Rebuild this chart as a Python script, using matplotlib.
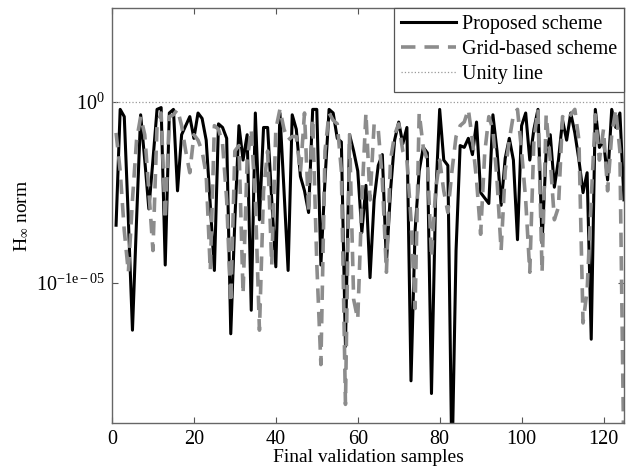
import numpy as np
import matplotlib
matplotlib.use('Agg')
import matplotlib.pyplot as plt
from matplotlib.ticker import FixedLocator, NullLocator

plt.rcParams['font.family'] = ['Liberation Serif', 'DejaVu Serif']
plt.rcParams['mathtext.fontset'] = 'custom'
plt.rcParams['mathtext.rm'] = 'Liberation Serif'
plt.rcParams['mathtext.it'] = 'Liberation Serif:italic'

# log10 of the H-infinity norm, in units of 1e-5, samples 1..125
proposed_exp = [
    -0.68, -0.04, -0.08, -0.65, -1.26, -0.65, -0.07, -0.32, -0.59, -0.32,
    -0.04, -0.03, -0.90, -0.06, -0.04, -0.49, -0.18, -0.13, -0.08, -0.20,
    -0.06, -0.09, -0.21, -0.57, -0.93, -0.12, -0.14, -0.20, -1.28, -0.65,
    -0.13, -0.32, -0.18, -1.15, -0.06, -0.65, -0.14, -0.14, -0.54, -0.91,
    -0.06, -0.49, -0.93, -0.07, -0.15, -0.41, -0.49, -0.61, -0.04, -0.04,
    -0.90, -0.43, -0.04, -0.06, -0.20, -0.22, -1.35, -0.18, -0.27, -0.38,
    -0.72, -0.46, -0.97, -0.54, -0.35, -0.29, -0.89, -0.49, -0.21, -0.11,
    -0.23, -0.14, -1.54, -0.71, -0.38, -0.25, -0.28, -1.61, -0.54, -0.04,
    -0.32, -0.35, -2.03, -0.82, -0.24, -0.25, -0.20, -0.29, -0.11, -0.50,
    -0.53, -0.56, -0.07, -0.27, -0.57, -0.31, -0.20, -0.32, -0.76, -0.13,
    -0.06, -0.32, -0.15, -0.04, -0.78, -0.27, -0.18, -0.47, -0.32, -0.10,
    -0.21, -0.06, -0.17, -0.32, -0.50, -0.39, -1.31, -0.04, -0.25, -0.21,
    -0.43, -0.04, -0.14, -0.06, -0.54,
]
grid_exp = [
    -0.17, -0.38, -0.71, -0.94, -0.54, -0.21, -0.08, -0.18, -0.49, -0.82,
    -0.13, -0.06, -0.65, -0.08, -0.07, -0.04, -0.13, -0.27, -0.39, -0.18,
    -0.21, -0.27, -0.40, -0.93, -0.13, -0.15, -0.23, -0.54, -1.11, -0.27,
    -0.24, -1.06, -0.32, -0.15, -0.54, -1.26, -0.49, -0.27, -0.90, -0.15,
    -0.04, -0.15, -0.21, -0.19, -0.19, -0.39, -0.06, -0.61, -0.09, -0.89,
    -1.45, -0.27, -0.06, -0.10, -0.12, -0.38, -1.67, -0.18, -1.09, -1.20,
    -0.54, -0.06, -0.54, -0.12, -0.15, -0.43, -0.94, -0.32, -0.18, -0.12,
    -0.27, -0.32, -0.65, -1.14, -0.06, -0.25, -0.32, -0.86, -0.49, -0.32,
    -0.49, -0.61, -0.38, -0.19, -0.13, -0.11, -0.04, -0.21, -0.43, -0.73,
    -0.28, -0.08, -0.15, -0.43, -0.82, -0.38, -0.21, -0.07, -0.04, -0.27,
    -0.54, -0.94, -0.21, -0.04, -0.94, -0.07, -0.32, -0.65, -0.58, -0.08,
    -0.10, -0.07, -0.04, -0.21, -1.22, -1.04, -0.54, -0.07, -0.32, -0.15,
    -0.49, -0.18, -0.04, -0.27, -2.03,
]

samples = np.arange(1, len(proposed_exp) + 1)
proposed = 10 ** (np.array(proposed_exp) * 1e-5)
grid = 10 ** (np.array(grid_exp) * 1e-5)

fig = plt.figure(figsize=(6.27, 4.73), dpi=100)
ax = fig.add_axes([0.1786, 0.1057, 0.8166, 0.8773])

ax.plot(samples, proposed, '-', color='black', lw=2.2, label='Proposed scheme')
ax.plot(samples, grid, '--', color='#8c8c8c', lw=2.6, dashes=(4, 2.5),
        label='Grid-based scheme')
ax.plot([0, 125], [1, 1], ':', color='#999999', lw=0.9, label='Unity line')

ax.set_yscale('log')
ax.set_xlim(0, 125)
ax.set_ylim(10 ** (-1.773e-5), 10 ** (0.52e-5))
ax.yaxis.set_major_locator(FixedLocator([10 ** (-1e-5), 1.0]))
ax.yaxis.set_minor_locator(NullLocator())
ax.set_yticklabels([r'$\mathregular{10^{-1e-05}}$', r'$\mathregular{10^{0}}$'])
ax.set_xticks(np.arange(0, 121, 20))

ax.tick_params(direction='in', top=True, right=True, labelsize=14.5, length=4,
               color='#555555', pad=5)
for s in ax.spines.values():
    s.set_color('#666666')
    s.set_linewidth(1.0)

ax.set_xlabel('Final validation samples', fontsize=14, labelpad=0)
ax.set_ylabel(r'$\mathregular{H_{\infty}}$ norm', fontsize=14, labelpad=4)

leg = ax.legend(loc='upper right', fontsize=14.5, handlelength=2.7,
                borderaxespad=0, fancybox=False, framealpha=1,
                edgecolor='#555555', borderpad=0.35, labelspacing=0.3,
                handletextpad=0.3)
leg.get_frame().set_linewidth(0.9)

fig.savefig('out.png', dpi=100)
